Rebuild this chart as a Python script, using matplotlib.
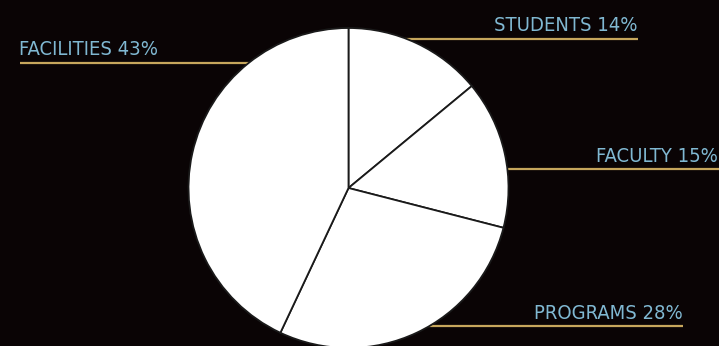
import matplotlib
matplotlib.use("Agg")
import matplotlib.pyplot as plt

categories = ["STUDENTS", "FACULTY", "PROGRAMS", "FACILITIES"]
values = [14, 15, 28, 43]

W, H = 719, 346
BG = "#0a0405"
TXT = "#80b8d2"
LINE = "#c6a65c"

fig = plt.figure(figsize=(W / 100, H / 100), dpi=100, facecolor=BG)
ax = fig.add_axes([0, 0, 1, 1])
ax.set_facecolor(BG)

cx, cy, r = 348.5, H - 188, 160

# label placement: (text x, text baseline y, ha, line x0, line x1, line y)
layout = {
    "STUDENTS": (638, H - 31, "right", 348, 638, H - 39),
    "FACULTY": (718, H - 162, "right", 348, 719, H - 169),
    "PROGRAMS": (683, H - 319, "right", 348, 683, H - 326),
    "FACILITIES": (19, H - 55, "left", 20, 348, H - 63),
}

for cat, v in zip(categories, values):
    tx, ty, ha, x0, x1, ly = layout[cat]
    ax.plot([x0, x1], [ly, ly], color=LINE, lw=1.6, zorder=1, solid_capstyle="butt")
    ax.text(tx, ty, f"{cat} {v}%", color=TXT, ha=ha, va="baseline",
            fontsize=14.5, family="DejaVu Sans", fontstretch="condensed", zorder=3)

wedges, _ = ax.pie(values, center=(cx, cy), radius=r, startangle=90,
                   counterclock=False, colors=["white"] * len(values),
                   wedgeprops=dict(edgecolor="#1a1a1a", linewidth=1.3, zorder=2),
                   frame=True)
ax.set_xlim(0, W)
ax.set_ylim(0, H)
ax.set_aspect("equal")
ax.axis("off")

fig.savefig("out.png", dpi=100, facecolor=BG)
